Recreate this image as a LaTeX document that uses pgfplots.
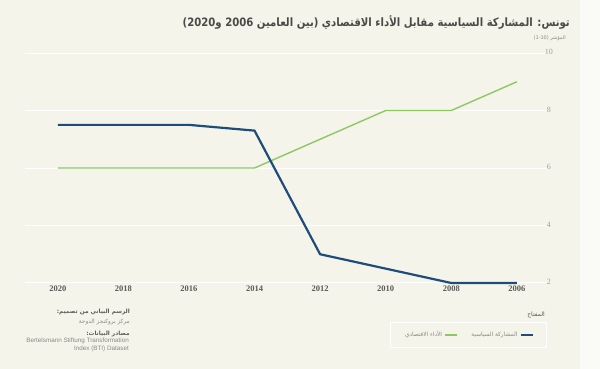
\documentclass[border=0pt]{standalone}
\usepackage{fontspec}
\usepackage{pgfplots}
\pgfplotsset{compat=1.18}
\setmainfont{Liberation Serif}
\setsansfont{Liberation Sans}
\newfontfamily\arabicfont[Script=Arabic]{DejaVu Sans}
\TeXXeTstate=1
\definecolor{bg}{HTML}{F4F4EA}
\definecolor{bgr}{HTML}{FAFAF6}
\definecolor{bluel}{HTML}{1E4D7B}
\definecolor{greenl}{HTML}{8DC863}
\definecolor{titlec}{HTML}{4A4A48}
\definecolor{tickc}{HTML}{5A5A58}
\definecolor{ytickc}{HTML}{A0A09A}
\definecolor{credc}{HTML}{8A8A86}
\begin{document}
\begin{tikzpicture}[x=1pt,y=1pt]
\fill[bg] (0,0) rectangle (600,369);
\fill[bgr] (580,0) rectangle (600,369);
\begin{axis}[
  at={(25pt,86pt)}, anchor=south west,
  width=523pt, height=230pt, scale only axis,
  xmin=2005.05, xmax=2021, x dir=reverse,
  ymin=2, ymax=10,
  axis line style={draw=none},
  tick style={draw=none},
  ymajorgrids, major grid style={white, line width=1pt},
  xtick={2006,2008,...,2020},
  ytick={2,4,6,8,10},
  yticklabel pos=right,
  /pgf/number format/1000 sep={},
  /pgf/number format/assume math mode=true,
  xticklabel style={font=\bfseries\fontsize{8.5}{10}\selectfont, text=tickc, anchor=center, yshift=-6pt},
  yticklabel style={font=\fontsize{8}{9}\selectfont, text=ytickc, anchor=center, xshift=1pt, yshift=1pt},
  clip=false,
  legend columns=2,
  legend plot pos=right,
  legend cell align=right,
  legend image code/.code={\draw[#1] (0pt,0pt) -- (12pt,0pt);},
  legend style={at={(0.998,-0.17)}, anchor=north east, draw=white, line width=0.6pt, fill=none,
    font=\arabicfont\fontsize{5.8}{6}\selectfont, text=credc,
    inner xsep=13pt, inner ysep=7pt, /tikz/every even column/.append style={column sep=12pt}},
]
\addplot[greenl, line width=1.4pt] coordinates {
  (2020,6) (2018,6) (2016,6) (2014,6) (2012,7) (2010,8) (2008,8) (2006,9)};
\addlegendentry{\beginR الأداء الاقتصادي\endR}
\addplot[bluel, line width=2.2pt] coordinates {
  (2020,7.5) (2018,7.5) (2016,7.5) (2014,7.3) (2012,3) (2010,2.5) (2008,2) (2006,2)};
\addlegendentry{\beginR المشاركة السياسية\endR}
\end{axis}
\node[anchor=east, font=\arabicfont\bfseries\fontsize{11.5}{14}\selectfont, text=titlec, inner sep=0pt] at (570,347)
  {\scalebox{0.88}[1]{\beginR تونس: المشاركة السياسية مقابل الأداء الاقتصادي (بين العامين 2006 و2020)\endR}};
\node[anchor=east, font=\arabicfont\fontsize{5}{6}\selectfont, text=credc, inner sep=0pt] at (566,331)
  {\beginR المؤشر (1-10)\endR};
\node[anchor=east, font=\arabicfont\fontsize{6}{7}\selectfont, text=tickc, inner sep=0pt] at (545,54)
  {\beginR المفتاح\endR};
\node[anchor=east, font=\arabicfont\bfseries\fontsize{5.8}{7}\selectfont, text=tickc, inner sep=0pt] at (130,57)
  {\beginR الرسم البياني من تصميم:\endR};
\node[anchor=east, font=\arabicfont\fontsize{5.8}{7}\selectfont, text=credc, inner sep=0pt] at (130,47)
  {\beginR مركز بروكنجز الدوحة\endR};
\node[anchor=east, font=\arabicfont\bfseries\fontsize{5.8}{7}\selectfont, text=tickc, inner sep=0pt] at (130,35)
  {\beginR مصادر البيانات:\endR};
\node[anchor=east, font=\sffamily\fontsize{6.3}{7}\selectfont, text=credc, inner sep=0pt] at (129,28)
  {Bertelsmann Stiftung Transformation};
\node[anchor=east, font=\sffamily\fontsize{6.3}{7}\selectfont, text=credc, inner sep=0pt] at (129,20)
  {Index (BTI) Dataset};
\end{tikzpicture}
\end{document}
